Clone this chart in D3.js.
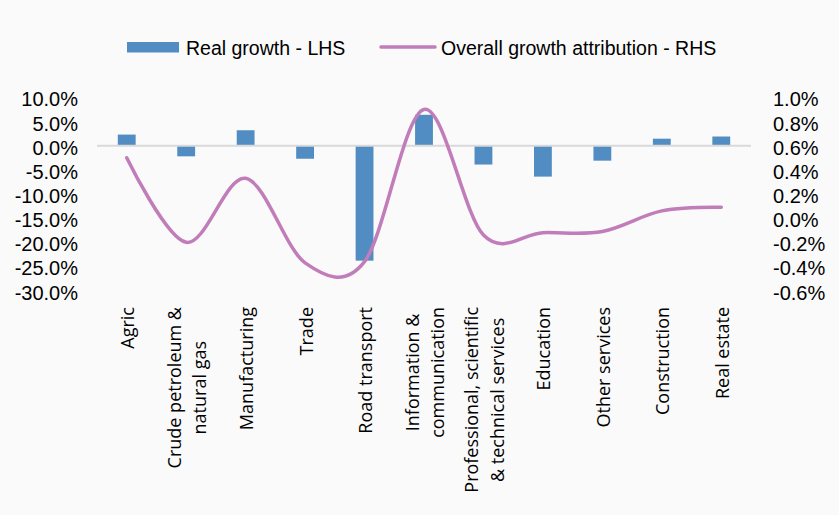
<!DOCTYPE html>
<html>
<head>
<meta charset="utf-8">
<script src="https://cdn.jsdelivr.net/npm/d3@7"></script>
<style>
  html, body { margin: 0; padding: 0; background: #fafafa; }
  svg { display: block; }
  .num { font-family: "Liberation Sans Narrow", "Liberation Sans", sans-serif; font-size: 20px; fill: #000; }
  .leg { font-family: "Liberation Sans Narrow", "Liberation Sans", sans-serif; font-size: 19.5px; fill: #000; }
  .cat { font-family: "Open Sans", sans-serif; font-size: 18px; fill: #000; }
</style>
</head>
<body>
<svg id="chart" width="839" height="515"></svg>
<script>
const categories = [
  ["Agric"],
  ["Crude petroleum &", "natural gas"],
  ["Manufacturing"],
  ["Trade"],
  ["Road transport"],
  ["Information &", "communication"],
  ["Professional, scientific", "& technical services"],
  ["Education"],
  ["Other services"],
  ["Construction"],
  ["Real estate"],
];
// Real growth - LHS, percent
const realGrowth = [2.3, -2.2, 3.2, -2.7, -23.8, 6.4, -3.9, -6.4, -3.1, 1.45, 1.9];
// Overall growth attribution - RHS, percent
const attribution = [0.50, -0.20, 0.33, -0.37, -0.36, 0.90, -0.14, -0.12, -0.11, 0.06, 0.09];

const leftTicks = [10, 5, 0, -5, -10, -15, -20, -25, -30];
const rightTicks = [1.0, 0.8, 0.6, 0.4, 0.2, 0.0, -0.2, -0.4, -0.6];

const BAR_COLOR = "#518dc3";
const LINE_COLOR = "#c07dba";

const svg = d3.select("#chart");
const idx = categories.map((_, i) => i);

const x = d3.scaleBand().domain(idx).range([97, 751]).paddingInner(0.7).paddingOuter(0.35);
const yL = d3.scaleLinear().domain([-30, 10]).range([290.6, 97.4]);
const yR = d3.scaleLinear().domain([-0.6, 1.0]).range([290.6, 97.4]);

// left axis labels
const leftAxis = svg.append("g").attr("transform", "translate(78,0)")
  .call(d3.axisLeft(yL).tickValues(leftTicks).tickSize(0).tickPadding(0).tickFormat((d) => `${d.toFixed(1)}%`));
leftAxis.select(".domain").remove();
leftAxis.selectAll("text").attr("class", "num").attr("dy", null).attr("y", 8.5).attr("font-family", null).attr("font-size", null);

// right axis labels
const rightAxis = svg.append("g").attr("transform", "translate(773,0)")
  .call(d3.axisRight(yR).tickValues(rightTicks).tickSize(0).tickPadding(0).tickFormat((d) => `${d.toFixed(1)}%`));
rightAxis.select(".domain").remove();
rightAxis.selectAll("text").attr("class", "num").attr("dy", null).attr("y", 8.5).attr("font-family", null).attr("font-size", null);

// bars
svg.append("g").selectAll("rect")
  .data(realGrowth)
  .join("rect")
  .attr("x", (_, i) => x(i))
  .attr("width", x.bandwidth())
  .attr("y", (d) => yL(Math.max(0, d)))
  .attr("height", (d) => Math.abs(yL(d) - yL(0)))
  .attr("fill", BAR_COLOR);

// zero line
svg.append("line")
  .attr("x1", 97).attr("x2", 751)
  .attr("y1", yL(0)).attr("y2", yL(0))
  .attr("stroke", "#d9d9d9").attr("stroke-width", 2);

// smoothed line
const line = d3.line()
  .x((_, i) => x(i) + x.bandwidth() / 2)
  .y((d) => yR(d))
  .curve(d3.curveCardinal.tension(0));
svg.append("path")
  .datum(attribution)
  .attr("fill", "none")
  .attr("stroke", LINE_COLOR)
  .attr("stroke-width", 3.5)
  .attr("stroke-linecap", "round")
  .attr("d", line);

// category labels, rotated, lines centred within block
const labelTop = 307;
const lineGap = 25.5;
categories.forEach((lines, i) => {
  const cx = x(i) + x.bandwidth() / 2;
  const g = svg.append("g");
  const texts = lines.map((t) => g.append("text").attr("class", "cat").attr("text-anchor", "middle").text(t));
  const maxW = d3.max(texts, (t) => t.node().getComputedTextLength());
  texts.forEach((t, j) => {
    const bx = cx + 7.5 + (j - (lines.length - 1) / 2) * lineGap;
    t.attr("transform", `translate(${bx},${labelTop + maxW / 2}) rotate(-90)`);
  });
});

// legend
const legend = svg.append("g");
legend.append("rect").attr("x", 127).attr("y", 42).attr("width", 52).attr("height", 10.5).attr("fill", BAR_COLOR);
legend.append("text").attr("class", "leg").attr("x", 186).attr("y", 54.5).text("Real growth - LHS");
legend.append("line").attr("x1", 381).attr("x2", 435).attr("y1", 47).attr("y2", 47)
  .attr("stroke", LINE_COLOR).attr("stroke-width", 3.5).attr("stroke-linecap", "round");
legend.append("text").attr("class", "leg").attr("x", 441).attr("y", 54.5).text("Overall growth attribution - RHS");
</script>
</body>
</html>
